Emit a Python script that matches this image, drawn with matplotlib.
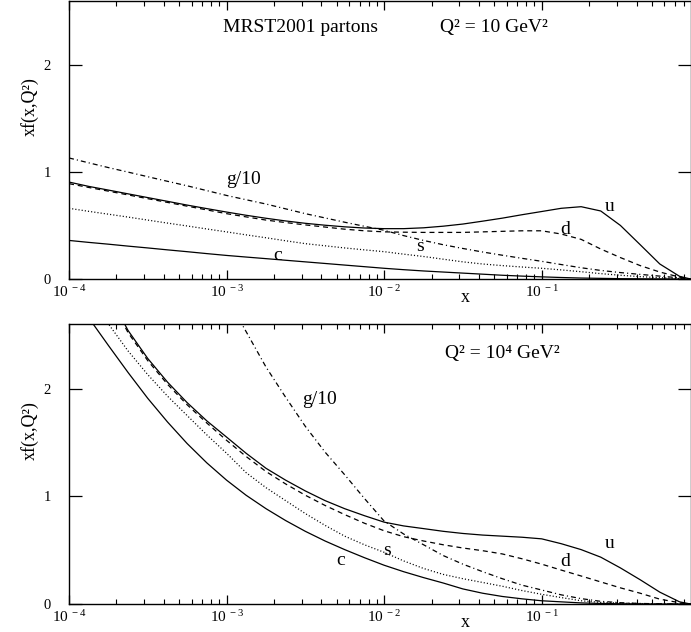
import matplotlib
matplotlib.use("Agg")
import matplotlib.pyplot as plt
from matplotlib.ticker import LogLocator, NullFormatter

plt.rcParams['font.family'] = ['Liberation Serif', 'DejaVu Serif']
plt.rcParams['mathtext.fontset'] = 'custom'
plt.rcParams['mathtext.rm'] = 'Liberation Serif'
plt.rcParams['mathtext.it'] = 'Liberation Serif:italic'
plt.rcParams['lines.scale_dashes'] = False

# x grid shared by all curves
x_grid = [1e-4, 1.33e-4, 1.78e-4, 2.37e-4, 3.16e-4, 4.22e-4, 5.62e-4, 7.5e-4,
          1e-3, 1.33e-3, 1.78e-3, 2.37e-3, 3.16e-3, 4.22e-3, 5.62e-3, 7.5e-3,
          0.01, 0.0133, 0.0178, 0.0237, 0.0316, 0.0422, 0.0562, 0.075,
          0.1, 0.133, 0.178, 0.237, 0.316, 0.422, 0.562, 0.75, 0.88]

# Q^2 = 10 GeV^2
u_top = [0.905, 0.865, 0.83, 0.795, 0.76, 0.725, 0.69, 0.657,
         0.625, 0.595, 0.567, 0.542, 0.52, 0.502, 0.487, 0.476,
         0.47, 0.47, 0.478, 0.493, 0.513, 0.54, 0.568, 0.6,
         0.63, 0.66, 0.675, 0.635, 0.50, 0.32, 0.14, 0.025, 0.0]
d_top = [0.89, 0.855, 0.82, 0.785, 0.75, 0.715, 0.68, 0.645,
         0.61, 0.58, 0.55, 0.527, 0.505, 0.485, 0.465, 0.45,
         0.44, 0.437, 0.435, 0.435, 0.435, 0.44, 0.445, 0.45,
         0.45, 0.42, 0.37, 0.28, 0.20, 0.125, 0.065, 0.018, 0.0]
s_top = [0.66, 0.632, 0.605, 0.578, 0.55, 0.522, 0.495, 0.467,
         0.44, 0.412, 0.385, 0.357, 0.33, 0.31, 0.29, 0.272,
         0.255, 0.232, 0.21, 0.185, 0.16, 0.14, 0.125, 0.112,
         0.10, 0.085, 0.068, 0.05, 0.035, 0.022, 0.012, 0.004, 0.0]
c_top = [0.36, 0.342, 0.325, 0.307, 0.29, 0.272, 0.255, 0.237,
         0.22, 0.205, 0.19, 0.175, 0.16, 0.145, 0.13, 0.115,
         0.10, 0.087, 0.075, 0.065, 0.055, 0.045, 0.035, 0.027,
         0.02, 0.014, 0.009, 0.006, 0.003, 0.002, 0.001, 0.0, 0.0]
g_top = [1.13, 1.085, 1.04, 0.998, 0.955, 0.912, 0.87, 0.825,
         0.78, 0.74, 0.70, 0.655, 0.61, 0.57, 0.53, 0.492,
         0.455, 0.405, 0.36, 0.32, 0.285, 0.252, 0.222, 0.193,
         0.165, 0.135, 0.105, 0.08, 0.06, 0.043, 0.027, 0.011, 0.0]

# Q^2 = 10^4 GeV^2
u_bot = [3.5, 3.2, 2.88, 2.54, 2.28, 2.06, 1.87, 1.70,
         1.55, 1.40, 1.26, 1.15, 1.05, 0.96, 0.885, 0.82,
         0.76, 0.725, 0.70, 0.675, 0.655, 0.64, 0.63, 0.62,
         0.605, 0.56, 0.505, 0.435, 0.335, 0.225, 0.11, 0.02, 0.0]
d_bot = [3.5, 3.2, 2.87, 2.52, 2.26, 2.04, 1.85, 1.68,
         1.52, 1.37, 1.23, 1.115, 1.01, 0.915, 0.83, 0.75,
         0.68, 0.625, 0.585, 0.55, 0.52, 0.495, 0.465, 0.42,
         0.37, 0.315, 0.26, 0.205, 0.15, 0.10, 0.045, 0.012, 0.0]
s_bot = [3.3, 2.95, 2.6, 2.35, 2.13, 1.93, 1.75, 1.57,
         1.40, 1.22, 1.08, 0.96, 0.84, 0.73, 0.63, 0.55,
         0.48, 0.40, 0.33, 0.275, 0.235, 0.20, 0.165, 0.125,
         0.09, 0.06, 0.03, 0.015, 0.008, 0.004, 0.002, 0.0, 0.0]
c_bot = [3.0, 2.66, 2.4, 2.15, 1.91, 1.69, 1.49, 1.31,
         1.15, 1.01, 0.885, 0.775, 0.675, 0.585, 0.505, 0.43,
         0.36, 0.30, 0.245, 0.195, 0.14, 0.10, 0.07, 0.048,
         0.03, 0.02, 0.01, 0.005, 0.002, 0.001, 0.0, 0.0, 0.0]
g_bot = [6.0, 5.6, 5.2, 4.8, 4.4, 4.0, 3.6, 3.2,
         2.85, 2.53, 2.2, 1.92, 1.65, 1.41, 1.2, 0.98,
         0.77, 0.65, 0.55, 0.45, 0.37, 0.30, 0.235, 0.175,
         0.13, 0.085, 0.05, 0.025, 0.012, 0.005, 0.002, 0.0, 0.0]

xtick_vals = [1e-4, 1e-3, 1e-2, 1e-1]
xtick_labels = [r'$\mathregular{10^{\ -4}}$', r'$\mathregular{10^{\ -3}}$',
                r'$\mathregular{10^{\ -2}}$', r'$\mathregular{10^{\ -1}}$']

# curve labels: name -> (x, y)
labels_top = {'g/10': (1.29e-3, 0.93), 'u': (0.27, 0.68), 'd': (0.14, 0.465),
              's': (0.0168, 0.30), 'c': (2.11e-3, 0.22)}
labels_bot = {'g/10': (3.9e-3, 1.90), 'u': (0.27, 0.56), 'd': (0.14, 0.39),
              's': (0.0105, 0.50), 'c': (5.3e-3, 0.40)}

LW = 0.9
styles = {
    'u': dict(color='k', lw=LW, linestyle='-'),
    'd': dict(color='k', lw=LW, linestyle=(0, (3.6, 2.8))),
    's': dict(color='k', lw=LW, linestyle=(0, (0.8, 1.5))),
    'c': dict(color='k', lw=LW, linestyle='-'),
    'g': dict(color='k', lw=LW, linestyle=(0, (3.6, 2.2, 0.8, 2.2))),
}


def setup_axis(ax):
    ax.set_xscale('log')
    ax.set_xlim(1e-4, 0.88)
    ax.set_ylim(0, 2.6)
    ax.set_xticks(xtick_vals)
    ax.set_xticklabels(xtick_labels)
    ax.xaxis.set_minor_locator(LogLocator(base=10, subs=range(2, 10), numticks=20))
    ax.xaxis.set_minor_formatter(NullFormatter())
    ax.set_yticks([0, 1, 2])
    ax.set_yticklabels(['0', '1', '2'])
    ax.tick_params(axis='x', which='major', direction='in', top=True, length=6.5,
                   width=0.9, labelsize=11, pad=4)
    ax.tick_params(axis='x', which='minor', direction='in', top=True, length=3.3,
                   width=0.8)
    ax.tick_params(axis='y', which='major', direction='in', right=True, length=9.4,
                   width=0.9, labelsize=10.5, pad=13)
    for sp in ax.spines.values():
        sp.set_linewidth(1.0)
    ax.text(-0.063, 0.62, 'xf(x,Q²)', transform=ax.transAxes,
            rotation=90, ha='center', va='center', fontsize=13)
    ax.text(0.638, -0.066, 'x', transform=ax.transAxes, ha='center', va='center',
            fontsize=13)


def draw(ax, u, d, s, c, g, labels):
    ax.plot(x_grid, u, **styles['u'])
    ax.plot(x_grid, d, **styles['d'])
    ax.plot(x_grid, s, **styles['s'])
    ax.plot(x_grid, c, **styles['c'])
    ax.plot(x_grid, g, **styles['g'])
    for name, (lx, ly) in labels.items():
        ax.text(lx, ly, name, ha='center', va='center', fontsize=14)


fig = plt.figure(figsize=(6.91, 6.32), dpi=100)
ax1 = fig.add_axes([69 / 691, 1 - 279 / 632, 621.5 / 691, 278.5 / 632])
ax2 = fig.add_axes([69 / 691, 1 - 604 / 632, 621.5 / 691, 280 / 632])

setup_axis(ax1)
setup_axis(ax2)
draw(ax1, u_top, d_top, s_top, c_top, g_top, labels_top)
draw(ax2, u_bot, d_bot, s_bot, c_bot, g_bot, labels_bot)

ax1.text(0.372, 0.903, 'MRST2001 partons', transform=ax1.transAxes,
         ha='center', va='center', fontsize=14)
ax1.text(0.683, 0.903, 'Q² = 10 GeV²', transform=ax1.transAxes,
         ha='center', va='center', fontsize=14)
ax2.text(0.697, 0.896, 'Q² = 10⁴ GeV²', transform=ax2.transAxes,
         ha='center', va='center', fontsize=14)

fig.savefig('out.png', dpi=100)
